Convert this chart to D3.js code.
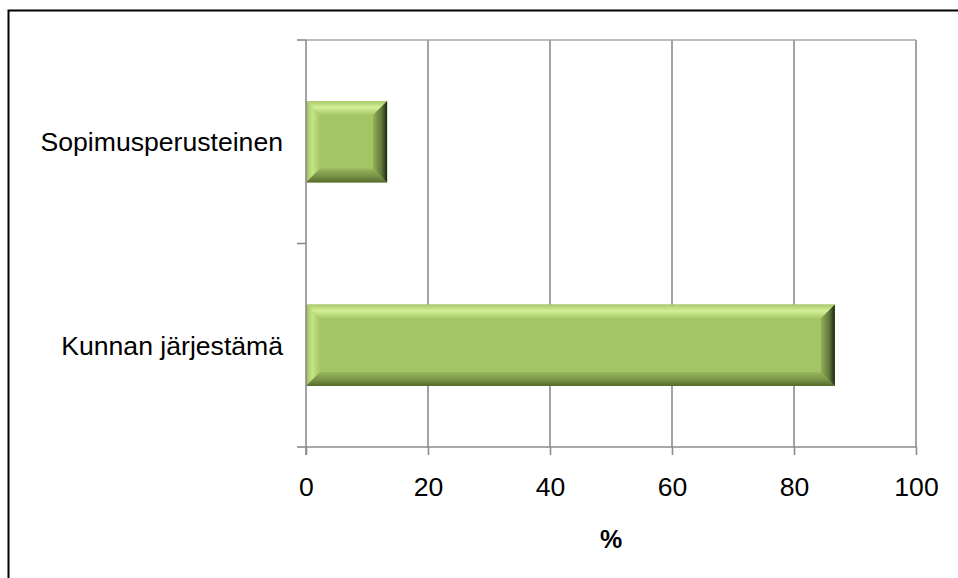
<!DOCTYPE html>
<html lang="fi">
<head>
    <meta charset="UTF-8">
    <title>Kunnan järjestämä / Sopimusperusteinen</title>
    <script src="https://d3js.org/d3.v7.min.js"></script>
    <style>
        body {
            margin: 0;
            background: #fff;
            font-family: "Liberation Sans", Arial, sans-serif;
        }
        .grid line {
            stroke: #8c8c8c;
            stroke-width: 1.6px;
        }
        .axis path, .axis line {
            stroke: #8c8c8c;
            stroke-width: 1.6px;
            fill: none;
        }
        .axis text {
            font-size: 26.6px;
            fill: #000;
        }
        .title {
            font-size: 25px;
            font-weight: bold;
        }
    </style>
</head>
<body>
<svg width="958" height="578"></svg>
<script>
    // Data
    const categories = ["Sopimusperusteinen", "Kunnan järjestämä"];
    const values = [13.3, 86.7];
    const xTicks = [0, 20, 40, 60, 80, 100];
    const xLabel = "%";

    const svg = d3.select("svg");
    const plot = { left: 306, right: 916, top: 40, bottom: 447 };

    // outer frame (chart is cut off right and bottom)
    svg.append("path")
        .attr("d", "M8.5,600 L8.5,10.5 L1000,10.5")
        .attr("fill", "none")
        .attr("stroke", "#000")
        .attr("stroke-width", 2);

    const x = d3.scaleLinear().domain([0, 100]).range([plot.left, plot.right]);
    const y = d3.scaleBand().domain(categories)
        .range([plot.top, plot.bottom])
        .paddingInner(0.6).paddingOuter(0.3);

    // gradients for the bevel
    const defs = svg.append("defs");
    function grad(id, x2, y2, stops) {
        const g = defs.append("linearGradient").attr("id", id)
            .attr("x1", 0).attr("y1", 0).attr("x2", x2).attr("y2", y2);
        stops.forEach(s => g.append("stop").attr("offset", s[0]).attr("stop-color", s[1]));
    }
    grad("bvTop", 0, 1, [[0, "#a9c96b"], [0.45, "#d3ef98"], [1, "#a7c767"]]);
    grad("bvLeft", 1, 0, [[0, "#9dbd5e"], [0.45, "#c6e586"], [1, "#a6c666"]]);
    grad("bvRight", 1, 0, [[0, "#92b058"], [0.6, "#5f773a"], [1, "#1c2610"]]);
    grad("bvBottom", 0, 1, [[0, "#9ab85d"], [0.6, "#768f45"], [1, "#56692f"]]);

    // gridlines
    const grid = svg.append("g").attr("class", "grid");
    grid.selectAll("line.v")
        .data(xTicks.slice(1))
        .enter().append("line")
        .attr("x1", d => x(d)).attr("x2", d => x(d))
        .attr("y1", plot.top).attr("y2", plot.bottom);
    grid.append("line")
        .attr("x1", plot.left).attr("x2", plot.right)
        .attr("y1", plot.top).attr("y2", plot.top)
        .style("stroke", "#a6a6a6");

    // bars with bevel
    const b = 14;
    const bars = svg.selectAll(".bar")
        .data(categories.map((c, i) => ({ cat: c, val: values[i] })))
        .enter().append("g").attr("class", "bar");

    bars.each(function (d) {
        const g = d3.select(this);
        const x0 = x(0), x1 = x(d.val);
        const y0 = y(d.cat), y1 = y(d.cat) + y.bandwidth();
        const pts = a => a.map(p => p.join(",")).join(" ");
        g.append("rect")
            .attr("x", x0).attr("y", y0)
            .attr("width", x1 - x0).attr("height", y1 - y0)
            .attr("fill", "#a4c565");
        g.append("polygon").attr("fill", "url(#bvTop)")
            .attr("points", pts([[x0, y0], [x1, y0], [x1 - b, y0 + b], [x0 + b, y0 + b]]));
        g.append("polygon").attr("fill", "url(#bvLeft)")
            .attr("points", pts([[x0, y0], [x0 + b, y0 + b], [x0 + b, y1 - b], [x0, y1]]));
        g.append("polygon").attr("fill", "url(#bvBottom)")
            .attr("points", pts([[x0, y1], [x0 + b, y1 - b], [x1 - b, y1 - b], [x1, y1]]));
        g.append("polygon").attr("fill", "url(#bvRight)")
            .attr("points", pts([[x1, y0], [x1, y1], [x1 - b, y1 - b], [x1 - b, y0 + b]]));
    });

    // x axis
    const xAxis = svg.append("g")
        .attr("class", "axis")
        .attr("transform", `translate(0,${plot.bottom})`)
        .call(d3.axisBottom(x).tickValues(xTicks).tickSize(8).tickSizeOuter(0).tickPadding(22));
    xAxis.select(".domain").attr("d", `M${plot.left},0H${plot.right}`);

    // y axis: ticks on category boundaries, labels at centers
    const yAxis = svg.append("g").attr("class", "axis");
    yAxis.append("line")
        .attr("x1", plot.left).attr("x2", plot.left)
        .attr("y1", plot.top).attr("y2", plot.bottom + 8);
    const bounds = d3.range(categories.length + 1).map(i => plot.top + i * (plot.bottom - plot.top) / categories.length);
    yAxis.selectAll("line.tk")
        .data(bounds)
        .enter().append("line")
        .attr("x1", plot.left - 9).attr("x2", plot.left)
        .attr("y1", d => d).attr("y2", d => d);
    yAxis.selectAll("text")
        .data(categories)
        .enter().append("text")
        .attr("x", plot.left - 23)
        .attr("y", d => y(d) + y.bandwidth() / 2)
        .attr("dy", "0.36em")
        .attr("text-anchor", "end")
        .text(d => d);

    svg.append("text")
        .attr("class", "title")
        .attr("x", (plot.left + plot.right) / 2)
        .attr("y", 548)
        .attr("text-anchor", "middle")
        .text(xLabel);
</script>
</body>
</html>
